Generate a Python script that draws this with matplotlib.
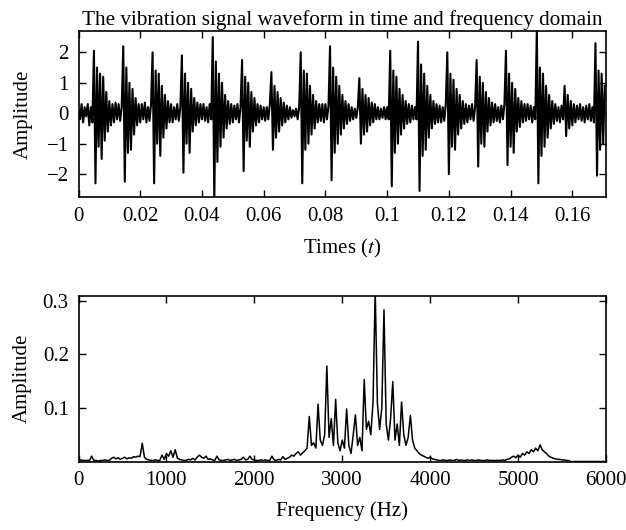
import numpy as np
import matplotlib
matplotlib.use("Agg")
import matplotlib.pyplot as plt
from matplotlib.ticker import FuncFormatter

plt.rcParams['font.family'] = ['Liberation Serif', 'DejaVu Serif']
plt.rcParams['mathtext.fontset'] = 'stix'

# time signal, one row per 0.01 s (dt = 0.0005 s)
dt = 0.0005
wave_rows = [
    [0.1, -0.2, 0.3, -0.3, 0.2, -0.1, 0.3, -0.4, 0.2, -0.3, 2.05, -2.3, 1.5, -1.1, 1.3, -1.5, 1.2, -0.9, 0.7, -0.6],
    [0.4, -0.4, 0.3, -0.3, 0.35, -0.2, 0.3, -0.25, 0.2, 2.2, -2.25, 1.5, -1.3, 1.0, -1.2, 0.8, -0.7, 0.5, -0.4, 0.3],
    [-0.3, 0.3, -0.2, 0.35, -0.3, 0.2, -0.25, 0.3, 2.0, -2.3, 1.4, -1.0, 1.3, -1.4, 0.9, -0.8, 0.6, -0.5, 0.4, -0.3],
    [0.3, -0.3, 0.2, -0.2, 0.3, -0.25, 0.2, 1.9, -1.95, 1.3, -1.0, 1.0, -1.3, 0.8, -0.6, 0.5, -0.4, 0.35, -0.3, 0.3],
    [-0.2, 0.3, -0.25, 0.2, -0.3, 0.3, -0.2, 2.5, -2.9, 1.7, -1.6, 1.3, -1.1, 1.0, -0.8, 0.6, -0.5, 0.4, -0.35, 0.3],
    [-0.3, 0.25, -0.2, 0.3, -0.3, 0.2, 1.75, -1.9, 1.2, -0.9, 1.0, -1.1, 0.7, -0.6, 0.5, -0.4, 0.3, -0.3, 0.25, -0.2],
    [0.2, -0.25, 0.2, -0.2, 0.3, 1.35, -1.2, 0.9, -0.8, 0.7, -0.6, 0.5, -0.4, 0.35, -0.3, 0.25, -0.2, 0.2, -0.15, 0.1],
    [-0.1, 0.15, -0.2, 0.2, 2.0, -2.3, 1.4, -1.2, 1.3, -1.0, 0.9, -0.7, 0.6, -0.5, 0.4, -0.3, 0.3, -0.25, 0.3, -0.3],
    [0.3, -0.2, 0.25, 2.2, -2.2, 1.5, -1.3, 1.2, -1.0, 0.9, -0.7, 0.6, -0.5, 0.4, -0.35, 0.3, -0.25, 0.2, -0.2, 0.15],
    [-0.15, 0.2, 1.15, -1.0, 0.8, -0.7, 0.6, -0.6, 0.5, -0.4, 0.35, -0.3, 0.3, -0.2, 0.2, -0.2, 0.15, -0.15, 0.2, -0.2],
    [0.2, -0.2, 2.05, -2.4, 1.4, -1.3, 1.2, -1.0, 0.8, -0.7, 0.6, -0.5, 0.4, -0.35, 0.3, -0.3, 0.25, -0.2, 0.2, -0.2],
    [2.35, -2.55, 1.6, -1.4, 1.3, -1.2, 0.9, -0.8, 0.6, -0.5, 0.4, -0.35, 0.3, -0.3, 0.25, -0.3, 0.2, -0.25, 0.3, 2.0],
    [-2.0, 1.3, -1.1, 1.1, -1.2, 0.8, -0.7, 0.6, -0.5, 0.4, -0.35, 0.3, -0.3, 0.25, -0.2, 0.3, -0.25, 0.2, 1.75, -1.75],
    [1.2, -1.0, 1.0, -1.1, 0.7, -0.6, 0.5, -0.4, 0.35, -0.3, 0.3, -0.25, 0.2, -0.3, 0.25, -0.2, 0.3, 2.05, -1.7, 1.3],
    [-1.1, 1.0, -1.3, 0.8, -0.6, 0.5, -0.45, 0.4, -0.3, 0.3, -0.25, 0.3, -0.2, 0.25, -0.3, 0.2, -0.2, 2.8, -2.3, 1.5],
    [-1.4, 1.3, -1.1, 0.9, -0.8, 0.6, -0.5, 0.4, -0.35, 0.3, -0.25, 0.2, -0.3, 0.25, -0.2, 0.9, -0.75, 0.6, -0.5, 0.4],
    [-0.4, 0.3, -0.3, 0.25, -0.2, 0.3, -0.25, 0.2, -0.3, 0.25, -0.2, 0.3, -0.25, 0.2, -0.3, 2.3, -2.05, 1.4, -1.2, 1.3],
    [-1.0, 0.9],
]

# amplitude spectrum, one row per 200 Hz (df = 25 Hz)
df = 25
spec_rows = [
    [0.0, 0.003, 0.002, 0.002, 0.002, 0.002, 0.010, 0.002],
    [0.002, 0.001, 0.002, 0.002, 0.003, 0.002, 0.002, 0.006],
    [0.008, 0.005, 0.007, 0.004, 0.006, 0.008, 0.005, 0.007],
    [0.006, 0.009, 0.008, 0.010, 0.009, 0.034, 0.008, 0.004],
    [0.003, 0.002, 0.002, 0.003, 0.002, 0.002, 0.012, 0.004],
    [0.015, 0.010, 0.020, 0.008, 0.022, 0.006, 0.004, 0.003],
    [0.002, 0.002, 0.004, 0.003, 0.006, 0.003, 0.008, 0.012],
    [0.008, 0.006, 0.010, 0.004, 0.005, 0.003, 0.002, 0.010],
    [0.003, 0.002, 0.002, 0.003, 0.004, 0.002, 0.003, 0.004],
    [0.002, 0.003, 0.004, 0.008, 0.003, 0.004, 0.010, 0.004],
    [0.003, 0.002, 0.002, 0.003, 0.002, 0.003, 0.002, 0.002],
    [0.010, 0.003, 0.002, 0.004, 0.003, 0.009, 0.004, 0.006],
    [0.008, 0.012, 0.010, 0.015, 0.018, 0.012, 0.016, 0.020],
    [0.025, 0.084, 0.030, 0.035, 0.025, 0.107, 0.040, 0.030],
    [0.050, 0.178, 0.045, 0.080, 0.030, 0.116, 0.035, 0.020],
    [0.040, 0.025, 0.098, 0.030, 0.015, 0.050, 0.087, 0.030],
    [0.045, 0.020, 0.153, 0.060, 0.075, 0.050, 0.110, 0.320],
    [0.109, 0.060, 0.100, 0.283, 0.070, 0.040, 0.080, 0.149],
    [0.040, 0.070, 0.030, 0.111, 0.050, 0.030, 0.045, 0.086],
    [0.040, 0.025, 0.020, 0.015, 0.012, 0.010, 0.008, 0.006],
    [0.008, 0.005, 0.004, 0.003, 0.002, 0.002, 0.003, 0.002],
    [0.002, 0.003, 0.002, 0.002, 0.004, 0.002, 0.003, 0.002],
    [0.002, 0.003, 0.002, 0.003, 0.002, 0.002, 0.003, 0.002],
    [0.002, 0.002, 0.003, 0.002, 0.002, 0.002, 0.002, 0.002],
    [0.002, 0.003, 0.002, 0.004, 0.005, 0.008, 0.010, 0.007],
    [0.012, 0.008, 0.015, 0.012, 0.018, 0.015, 0.022, 0.018],
    [0.025, 0.020, 0.031, 0.022, 0.018, 0.015, 0.010, 0.008],
    [0.006, 0.005, 0.004, 0.004, 0.003, 0.003, 0.002, 0.002],
    [0.0, 0.0, 0.0, 0.0, 0.0, 0.0, 0.0, 0.0],
    [0.0, 0.0, 0.0, 0.0, 0.0, 0.0, 0.0, 0.0],
    [0.0],
]

time_ticks = [0, 0.02, 0.04, 0.06, 0.08, 0.1, 0.12, 0.14, 0.16]
amp_ticks = [-2, -1, 0, 1, 2]
freq_ticks = [0, 1000, 2000, 3000, 4000, 5000, 6000]
spec_ticks = [0.1, 0.2, 0.3]

wave = np.concatenate([np.array(r) for r in wave_rows])
t = np.arange(len(wave)) * dt
spec = np.concatenate([np.array(r) for r in spec_rows])
f = np.arange(len(spec)) * df

fig = plt.figure(figsize=(6.26, 5.30), dpi=100)
ax1 = fig.add_axes([0.1254, 0.6283, 0.8426, 0.3132])
ax2 = fig.add_axes([0.1254, 0.1292, 0.8426, 0.3128])

fmt = FuncFormatter(lambda v, p: f"{v:g}".replace("-", "\u2212"))

ax1.plot(t, wave, color='k', linewidth=1.5)
ax1.set_xlim(0, 0.1709)
ax1.set_ylim(-2.75, 2.7)
ax1.set_xticks(time_ticks)
ax1.set_yticks(amp_ticks)
ax1.xaxis.set_major_formatter(fmt)
ax1.yaxis.set_major_formatter(fmt)
ax1.set_xlabel("Times ($t$)", fontsize=15, labelpad=8)
ax1.set_ylabel("Amplitude", fontsize=15, labelpad=10)
ax1.set_title("The vibration signal waveform in time and frequency domain", fontsize=15.2, pad=4)

ax2.plot(f, spec, color='k', linewidth=1.1)
ax2.set_xlim(0, 6000)
ax2.set_ylim(0, 0.309)
ax2.set_xticks(freq_ticks)
ax2.set_yticks(spec_ticks)
ax2.xaxis.set_major_formatter(fmt)
ax2.yaxis.set_major_formatter(fmt)
ax2.set_xlabel("Frequency (Hz)", fontsize=15, labelpad=8)
ax2.set_ylabel("Amplitude", fontsize=15, labelpad=8)

for ax in (ax1, ax2):
    ax.tick_params(direction='in', top=True, right=True, length=5, width=1, labelsize=15, pad=7)
    for s in ax.spines.values():
        s.set_linewidth(1.2)

fig.savefig("out.png", dpi=100)
